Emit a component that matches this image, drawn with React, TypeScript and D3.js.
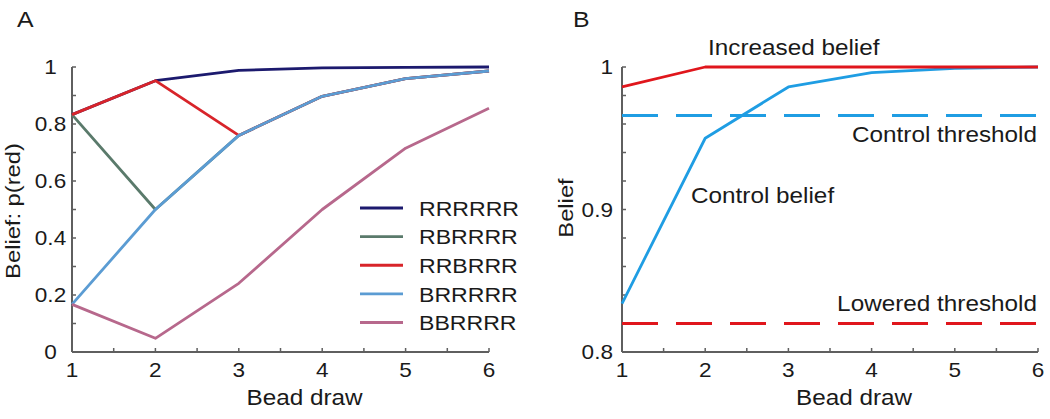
import * as d3 from 'd3'
import { type ReactElement } from 'react'

// bead draw index shared by both panels
const beadDraws = [1, 2, 3, 4, 5, 6]

// panel A: posterior p(red) for each bead sequence
const seqNames = ['RRRRRR', 'RBRRRR', 'RRBRRR', 'BRRRRR', 'BBRRRR']
const seqRRRRRR = [0.833, 0.952, 0.988, 0.997, 0.999, 1.0]
const seqRBRRRR = [0.833, 0.5, 0.76, 0.897, 0.959, 0.986]
const seqRRBRRR = [0.833, 0.952, 0.76, 0.897, 0.959, 0.986]
const seqBRRRRR = [0.167, 0.5, 0.76, 0.897, 0.959, 0.986]
const seqBBRRRR = [0.167, 0.048, 0.241, 0.5, 0.715, 0.855]
const seqColors = ['#1c1a6e', '#5a7a6b', '#d8242a', '#5b9cd3', '#b7688c']

// panel B: belief vs thresholds
const increasedBelief = [0.986, 1, 1, 1, 1, 1]
const controlBelief = [0.834, 0.95, 0.986, 0.996, 0.999, 1]
const controlThreshold = 0.966
const loweredThreshold = 0.82

const xTickLabels = ['1', '2', '3', '4', '5', '6']
const yTicksA = [0, 0.2, 0.4, 0.6, 0.8, 1]
const yTickLabelsA = ['0', '0.2', '0.4', '0.6', '0.8', '1']
const yTicksB = [0.8, 0.9, 1]
const yTickLabelsB = ['0.8', '0.9', '1']

const font = '"Liberation Sans", Arial, Helvetica, sans-serif'
const stretch = 1.13
const axisColor = '#5f5f5f'

type TxtProps = {
  x: number
  y: number
  size: number
  anchor?: 'start' | 'middle' | 'end'
  rotate?: boolean
  sx?: number
  children: string
}

function Txt({ x, y, size, anchor = 'start', rotate = false, sx = stretch, children }: TxtProps): ReactElement {
  const tf = `translate(${x},${y})${rotate ? ' rotate(-90)' : ''} scale(${sx},1)`
  return (
    <text transform={tf} fontSize={size} fontFamily={font} textAnchor={anchor} fill="#1a1a1a">
      {children}
    </text>
  )
}

type AxesProps = {
  x: d3.ScaleLinear<number, number>
  y: d3.ScaleLinear<number, number>
  minorY: number[]
  yTicks: number[]
  yLabels: string[]
  yLabelX: number
  yLabelAnchor: 'middle' | 'end'
}

function Axes({ x, y, minorY, yTicks, yLabels, yLabelX, yLabelAnchor }: AxesProps): ReactElement {
  const [x0, x1] = x.range()
  const [y0, y1] = y.range()
  const minorX = d3.range(1, 6.01, 0.5)
  return (
    <g>
      <line x1={x0} x2={x1} y1={y0} y2={y0} stroke={axisColor} strokeWidth={2} />
      <line x1={x0} x2={x0} y1={y0} y2={y1} stroke={axisColor} strokeWidth={2} />
      {minorX.map((t) => (
        <line key={`xt${t}`} x1={x(t)} x2={x(t)} y1={y0} y2={y0 - 4} stroke={axisColor} strokeWidth={1.5} />
      ))}
      {minorY.map((t) => (
        <line key={`yt${t}`} x1={x0} x2={x0 + 4} y1={y(t)} y2={y(t)} stroke={axisColor} strokeWidth={1.5} />
      ))}
      {beadDraws.map((d, i) => (
        <Txt key={`xl${d}`} x={x(d)} y={377} size={20} anchor="middle">
          {xTickLabels[i]!}
        </Txt>
      ))}
      {yTicks.map((t, i) => (
        <Txt key={`yl${t}`} x={yLabelX} y={y(t) + 7.3} size={20} anchor={yLabelAnchor}>
          {yLabels[i]!}
        </Txt>
      ))}
      <Txt x={(x0 + x1) / 2 + 24} y={405} size={21.5} anchor="middle">
        Bead draw
      </Txt>
    </g>
  )
}

export default function App(): ReactElement {
  const xA = d3.scaleLinear().domain([1, 6]).range([72, 489])
  const yA = d3.scaleLinear().domain([0, 1]).range([352, 67])
  const xB = d3.scaleLinear().domain([1, 6]).range([622, 1038])
  const yB = d3.scaleLinear().domain([0.8, 1]).range([352, 67])

  const lineA = d3
    .line<number>()
    .x((_, i) => xA(beadDraws[i]!))
    .y((v) => yA(v))
  const lineB = d3
    .line<number>()
    .x((_, i) => xB(beadDraws[i]!))
    .y((v) => yB(v))

  const seqs = [seqRRRRRR, seqRBRRRR, seqRRBRRR, seqBRRRRR, seqBBRRRR]
  const legendRows = d3.scaleLinear().domain([0, 4]).range([208, 322.5])

  return (
    <svg
      width={1050}
      height={419}
      style={{ position: 'absolute', left: 0, top: 0, background: '#fff' }}
    >
      {/* panel A */}
      <Txt x={17} y={27} size={22}>
        A
      </Txt>
      <Axes
        x={xA}
        y={yA}
        minorY={d3.range(0, 1.001, 0.1)}
        yTicks={yTicksA}
        yLabels={yTickLabelsA}
        yLabelX={50.5}
        yLabelAnchor="middle"
      />
      <Txt x={20} y={211} size={21} anchor="middle" rotate>
        Belief: p(red)
      </Txt>
      {seqs.map((s, i) => (
        <path key={seqNames[i]} d={lineA(s) ?? ''} fill="none" stroke={seqColors[i]} strokeWidth={2.8} strokeLinejoin="round" />
      ))}
      {seqNames.map((n, i) => (
        <g key={`lg${n}`}>
          <line x1={360} x2={403} y1={legendRows(i)} y2={legendRows(i)} stroke={seqColors[i]} strokeWidth={2.8} />
          <Txt x={419} y={legendRows(i) + 7.8} size={21} sx={1.1}>
            {n}
          </Txt>
        </g>
      ))}

      {/* panel B */}
      <Txt x={573} y={27} size={22}>
        B
      </Txt>
      <Axes
        x={xB}
        y={yB}
        minorY={d3.range(0.8, 1.0001, 0.02)}
        yTicks={yTicksB}
        yLabels={yTickLabelsB}
        yLabelX={613}
        yLabelAnchor="end"
      />
      <Txt x={573} y={208} size={21} anchor="middle" rotate>
        Belief
      </Txt>
      <line
        x1={xB(1)}
        x2={xB(6)}
        y1={yB(controlThreshold)}
        y2={yB(controlThreshold)}
        stroke="#1f9de3"
        strokeWidth={3}
        strokeDasharray="36 18"
      />
      <line
        x1={xB(1)}
        x2={xB(6)}
        y1={yB(loweredThreshold)}
        y2={yB(loweredThreshold)}
        stroke="#e0161c"
        strokeWidth={3}
        strokeDasharray="36 18"
      />
      <path d={lineB(controlBelief) ?? ''} fill="none" stroke="#1f9de3" strokeWidth={2.8} strokeLinejoin="round" />
      <path d={lineB(increasedBelief) ?? ''} fill="none" stroke="#e0161c" strokeWidth={2.8} strokeLinejoin="round" />
      <Txt x={708} y={55} size={21.5}>
        Increased belief
      </Txt>
      <Txt x={1037} y={142} size={21.5} anchor="end">
        Control threshold
      </Txt>
      <Txt x={691} y={203} size={21.5}>
        Control belief
      </Txt>
      <Txt x={1037} y={311} size={21.5} anchor="end">
        Lowered threshold
      </Txt>
    </svg>
  )
}
